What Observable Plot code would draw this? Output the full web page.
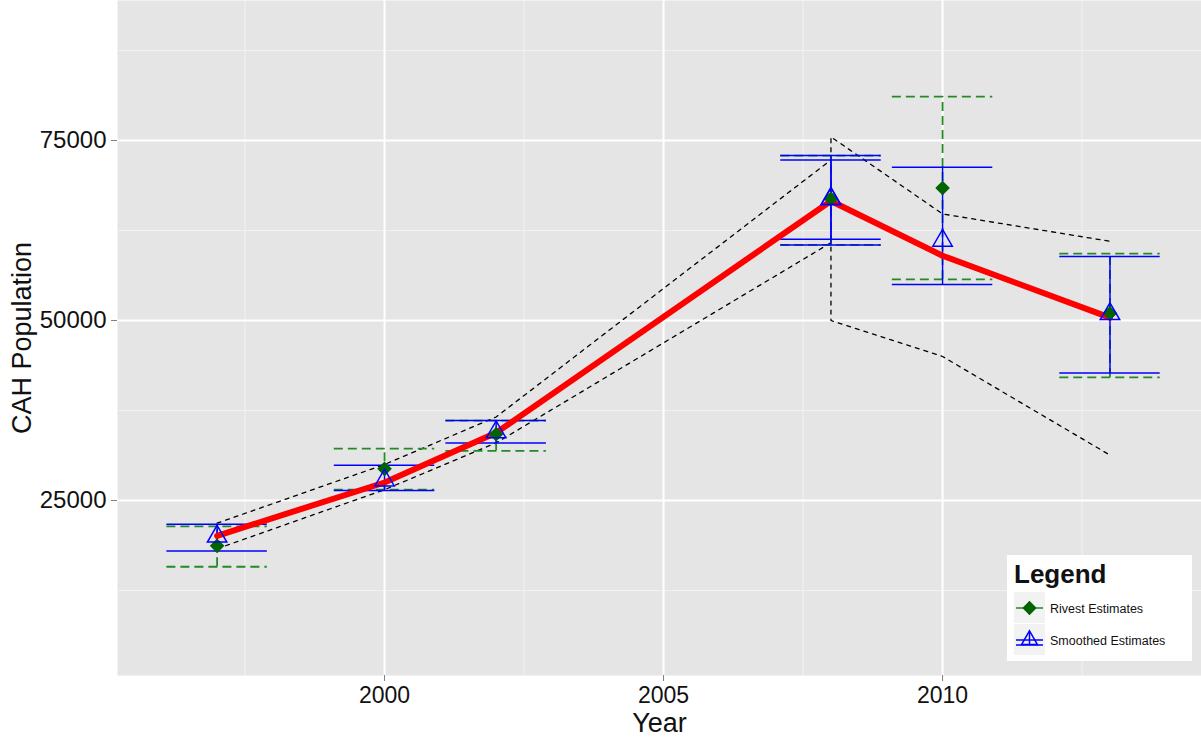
<!DOCTYPE html>
<html>
<head>
<meta charset="utf-8">
<script src="https://cdn.jsdelivr.net/npm/d3@7"></script>
<script src="https://cdn.jsdelivr.net/npm/@observablehq/plot@0.6"></script>
<style>
  body { margin: 0; background: #fff; font-family: "Liberation Sans", Arial, sans-serif; }
  #wrap { position: relative; width: 1201px; height: 740px; overflow: hidden; }
  #legend { position: absolute; left: 0; top: 0; }
</style>
</head>
<body>
<div id="wrap"></div>
<script>
// ---- Data ----
const rivestYears = [1997, 2000, 2002, 2008, 2010, 2013];
const rivestEst   = [18700, 29400, 34200, 66900, 68400, 51000];
const rivestLow   = [15800, 26500, 31900, 60500, 55700, 42100];
const rivestHigh  = [21400, 32200, 36100, 72900, 81100, 59300];

const smoothYears = [1997, 2000, 2002, 2008, 2008, 2010, 2013];
const smoothEst   = [20000, 27800, 34500, 66900, 66900, 61100, 50900];
const smoothLow   = [18000, 26400, 33000, 61300, 60500, 55000, 42700];
const smoothHigh  = [21700, 29900, 36100, 72900, 72300, 71300, 58900];
const fitted      = [20100, 27500, 34400, 66600, 66600, 59000, 50400];
const bandUpper   = [21850, 30000, 36600, 72300, 75500, 64800, 61000];
const bandLower   = [18300, 26500, 33000, 60800, 50000, 45000, 31300];

const xTicks = [2000, 2005, 2010];
const xMinor = [1997.5, 2002.5, 2007.5, 2012.5];
const yTicks = [25000, 50000, 75000];
const yMinor = [12500, 37500, 62500, 87500];

const seriesNames = ["Rivest Estimates", "Smoothed Estimates"];

// ---- Tables built from arrays ----
const rivest = rivestYears.map((year, i) => ({year, est: rivestEst[i], low: rivestLow[i], high: rivestHigh[i]}));
const smooth = smoothYears.map((year, i) => ({year, est: smoothEst[i], low: smoothLow[i], high: smoothHigh[i],
  fit: fitted[i], up: bandUpper[i], lo: bandLower[i]}));

const capHalf = 0.9;
const blue = "#0000FF", green = "#228B22", dkgreen = "#006400";

const chart = Plot.plot({
  width: 1201, height: 740,
  marginLeft: 117, marginRight: 0, marginTop: 0, marginBottom: 65,
  style: { fontFamily: "Liberation Sans, Arial, sans-serif", background: "white", color: "black" },
  x: { domain: [1995.215, 2014.64] },
  y: { domain: [694, 94444] },
  marks: [
    Plot.frame({ fill: "#E5E5E5", stroke: null }),
    Plot.gridY(yMinor, { stroke: "#F2F2F2", strokeOpacity: 1, strokeWidth: 1 }),
    Plot.gridX(xMinor, { stroke: "#F2F2F2", strokeOpacity: 1, strokeWidth: 1 }),
    Plot.gridY(yTicks, { stroke: "white", strokeOpacity: 1, strokeWidth: 2 }),
    Plot.gridX(xTicks, { stroke: "white", strokeOpacity: 1, strokeWidth: 2 }),
    Plot.axisX(xTicks, { tickSize: 6, tickPadding: 5, stroke: "#7F7F7F", fontSize: 23, fill: "#111", label: null, tickFormat: d => String(d) }),
    Plot.axisY(yTicks, { tickSize: 6, tickPadding: 5, stroke: "#7F7F7F", fontSize: 24, fill: "#111", label: null, tickFormat: d => String(d) }),
    Plot.text(["Year"], { frameAnchor: "bottom", dy: 56, fontSize: 27, fill: "#111" }),
    Plot.text(["CAH Population"], { frameAnchor: "left", dx: -95, rotate: -90, textAnchor: "middle", fontSize: 27, fill: "#111" }),

    // confidence band (black dashed)
    Plot.line(smooth, { x: "year", y: "up", stroke: "black", strokeWidth: 1.3, strokeDasharray: "4,5" }),
    Plot.line(smooth, { x: "year", y: "lo", stroke: "black", strokeWidth: 1.3, strokeDasharray: "4,5" }),

    // Rivest error bars (green dashed)
    Plot.ruleX(rivest, { x: "year", y1: "low", y2: "high", stroke: green, strokeWidth: 1.8, strokeDasharray: "9,5" }),
    Plot.ruleY(rivest, { y: "high", x1: d => d.year - capHalf, x2: d => d.year + capHalf, stroke: green, strokeWidth: 1.8, strokeDasharray: "9,5" }),
    Plot.ruleY(rivest, { y: "low", x1: d => d.year - capHalf, x2: d => d.year + capHalf, stroke: green, strokeWidth: 1.8, strokeDasharray: "9,5" }),

    // Smoothed error bars (blue solid)
    Plot.ruleX(smooth, { x: "year", y1: "low", y2: "high", stroke: blue, strokeWidth: 1.5 }),
    Plot.ruleY(smooth, { y: "high", x1: d => d.year - capHalf, x2: d => d.year + capHalf, stroke: blue, strokeWidth: 1.5 }),
    Plot.ruleY(smooth, { y: "low", x1: d => d.year - capHalf, x2: d => d.year + capHalf, stroke: blue, strokeWidth: 1.5 }),

    // fitted line (red)
    Plot.line(smooth, { x: "year", y: "fit", stroke: "#FF0000", strokeWidth: 6, strokeLinejoin: "round" }),

    // points
    Plot.dot(rivest, { x: "year", y: "est", symbol: "diamond2", r: 6.6, fill: dkgreen, stroke: null }),
    Plot.dot(smooth, { x: "year", y: "est", symbol: "triangle", r: 7.2, fill: "none", stroke: blue, strokeWidth: 1.5 })
  ]
});

const wrap = document.getElementById("wrap");
wrap.appendChild(chart);

// ---- Legend (overlay) ----
const ns = "http://www.w3.org/2000/svg";
const lg = document.createElementNS(ns, "svg");
lg.setAttribute("id", "legend");
lg.setAttribute("width", 1201);
lg.setAttribute("height", 740);
lg.style.pointerEvents = "none";
const L = d3.select(lg);
L.append("rect").attr("x", 1007).attr("y", 555).attr("width", 185).attr("height", 106).attr("fill", "white");
L.append("text").attr("x", 1014).attr("y", 583).attr("font-size", 26).attr("font-weight", "bold")
  .attr("font-family", "Liberation Sans, Arial, sans-serif").attr("fill", "#111").text("Legend");
const keys = [
  { name: seriesNames[0], y: 592 },
  { name: seriesNames[1], y: 624 }
];
keys.forEach((k, i) => {
  L.append("rect").attr("x", 1014).attr("y", k.y).attr("width", 31).attr("height", 31).attr("fill", "#F2F2F2");
  const cy = k.y + 16, cx = 1029.5;
  if (i === 0) {
    L.append("line").attr("x1", 1016).attr("x2", 1043).attr("y1", cy).attr("y2", cy).attr("stroke", green).attr("stroke-width", 1.5);
    L.append("path").attr("d", d3.symbol(d3.symbolDiamond2, 130)()).attr("transform", `translate(${cx},${cy})`).attr("fill", dkgreen);
  } else {
    L.append("line").attr("x1", 1016).attr("x2", 1043).attr("y1", cy).attr("y2", cy).attr("stroke", blue).attr("stroke-width", 1.5);
    L.append("line").attr("x1", 1016).attr("x2", 1043).attr("y1", cy + 5).attr("y2", cy + 5).attr("stroke", blue).attr("stroke-width", 1.5);
    L.append("line").attr("x1", cx).attr("x2", cx).attr("y1", cy - 8).attr("y2", cy + 5).attr("stroke", blue).attr("stroke-width", 1.5);
    L.append("path").attr("d", d3.symbol(d3.symbolTriangle2, 180)()).attr("transform", `translate(${cx},${cy})`)
      .attr("fill", "none").attr("stroke", blue).attr("stroke-width", 1.5);
  }
  L.append("text").attr("x", 1050).attr("y", cy + 4.5).attr("font-size", 12.5)
    .attr("font-family", "Liberation Sans, Arial, sans-serif").attr("fill", "#111").text(k.name);
});
wrap.appendChild(lg);
</script>
</body>
</html>
